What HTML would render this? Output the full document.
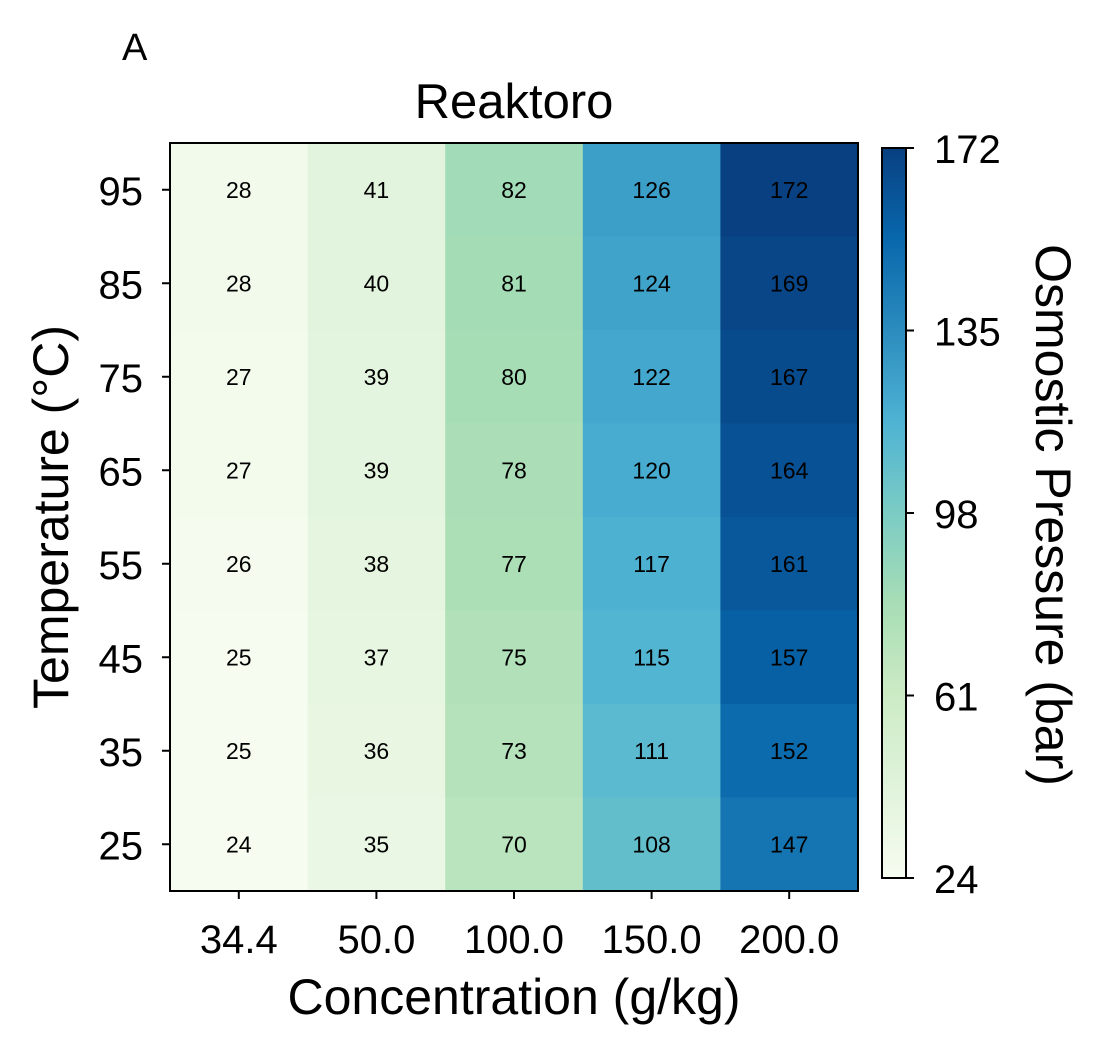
<!DOCTYPE html>
<html><head><meta charset="utf-8"><style>
body{margin:0;background:#fff;}
svg text{font-family:"Liberation Sans",Arial,sans-serif;fill:#000;}
</style></head><body>
<svg id="chart" width="1105" height="1055" viewBox="0 0 1105 1055" xmlns="http://www.w3.org/2000/svg">
<defs><linearGradient id="cbgrad" x1="0" y1="1" x2="0" y2="0"></linearGradient></defs>
<text x="122" y="60" font-size="38">A</text>
<text x="514" y="118" font-size="49" text-anchor="middle">Reaktoro</text>
<g id="cells"></g>
<rect x="170" y="143" width="688" height="748" fill="none" stroke="#000" stroke-width="2"/>
<g id="axes"></g>
<text x="514" y="1014" font-size="50" text-anchor="middle">Concentration (g/kg)</text>
<text transform="translate(68,517) rotate(-90)" font-size="50" text-anchor="middle">Temperature (°C)</text>
<rect x="882" y="148" width="24" height="730" fill="url(#cbgrad)" stroke="#000" stroke-width="2"/>
<g id="cbaxis"></g>
<text transform="translate(1036,515) rotate(90)" font-size="50" text-anchor="middle">Osmostic Pressure (bar)</text>
</svg>
<script>
const concentrations = ["34.4","50.0","100.0","150.0","200.0"];
const temperatures = [95,85,75,65,55,45,35,25];
const pressures = [
 [28,41,82,126,172],
 [28,40,81,124,169],
 [27,39,80,122,167],
 [27,39,78,120,164],
 [26,38,77,117,161],
 [25,37,75,115,157],
 [25,36,73,111,152],
 [24,35,70,108,147]
];
const cbTicks = [24,61,98,135,172];
const vmin = 24, vmax = 172;

const NS="http://www.w3.org/2000/svg";
const stops=["#f7fcf0","#e0f3db","#ccebc5","#a8ddb5","#7bccc4","#4eb3d3","#2b8cbe","#0868ac","#084081"];
function hex(h){return [1,3,5].map(i=>parseInt(h.substr(i,2),16));}
function cmap(v){let t=Math.max(0,Math.min(1,(v-vmin)/(vmax-vmin)))*(stops.length-1);let i=Math.min(Math.floor(t),stops.length-2),f=t-i;const a=hex(stops[i]),b=hex(stops[i+1]);return "rgb("+a.map((c,k)=>Math.round(c+(b[k]-c)*f)).join(",")+")";}
const X0=170,W=688,Y0=143,H=748;
const cw=W/concentrations.length, rh=H/temperatures.length;
const xPos=i=>X0+cw*(i+0.5), yPos=j=>Y0+rh*(j+0.5);
function el(tag,attrs,parent,txt){const e=document.createElementNS(NS,tag);for(const k in attrs)e.setAttribute(k,attrs[k]);if(txt!==undefined)e.textContent=txt;parent.appendChild(e);return e;}
const cells=document.getElementById('cells');
pressures.forEach((row,j)=>row.forEach((v,i)=>{
 const r=el('rect',{x:X0+cw*i,y:Y0+rh*j,width:cw+0.5,height:rh+0.5,fill:cmap(v)},cells);
 
 
 const t=el('text',{x:xPos(i),y:yPos(j)+8,'font-size':23,'text-anchor':'middle'},cells,v);
 
 
}));
const axes=document.getElementById('axes');
concentrations.forEach((c,i)=>{
 el('line',{x1:xPos(i),x2:xPos(i),y1:891,y2:899,stroke:'#000','stroke-width':2},axes);
 const t=el('text',{x:xPos(i),y:953,'font-size':40,'text-anchor':'middle'},axes,c);
 
 
});
temperatures.forEach((tv,j)=>{
 el('line',{x1:162,x2:170,y1:yPos(j),y2:yPos(j),stroke:'#000','stroke-width':2},axes);
 const t=el('text',{x:143,y:yPos(j)+15,'font-size':40,'text-anchor':'end'},axes,tv);
 
 
});
const g=document.getElementById('cbgrad');
for(let k=0;k<=40;k++){el('stop',{offset:(k/40),'stop-color':cmap(vmin+(vmax-vmin)*k/40)},g);}
const cb=document.getElementById('cbaxis');
const cbY=v=>878-(v-vmin)/(vmax-vmin)*730;
cbTicks.forEach(v=>{
 el('line',{x1:906,x2:914,y1:cbY(v),y2:cbY(v),stroke:'#000','stroke-width':2},cb);
 const t=el('text',{x:934,y:cbY(v)+15,'font-size':40},cb,v);
 
 
});
</script>
</body></html>
